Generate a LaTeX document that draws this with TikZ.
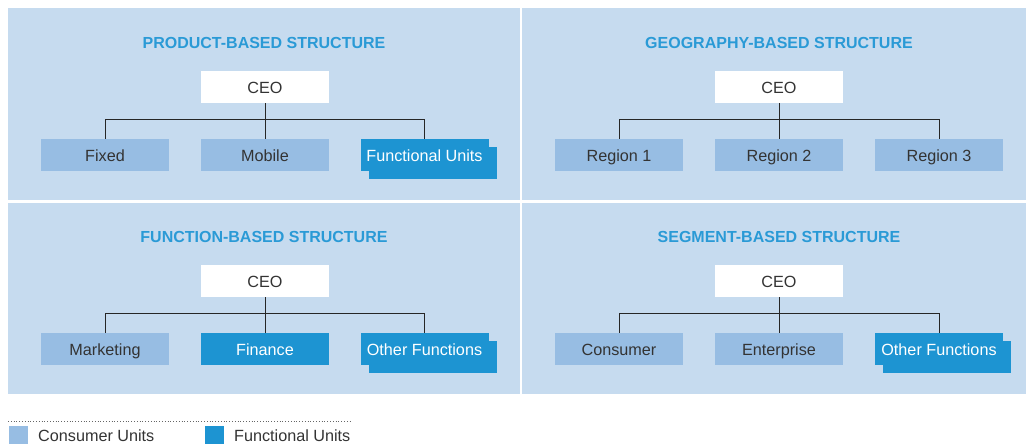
\documentclass[tikz,border=0pt]{standalone}
\usepackage{fontspec}
\setmainfont{Liberation Sans}
\usetikzlibrary{shadows}
\definecolor{panelbg}{HTML}{C6DBEF}
\definecolor{consumer}{HTML}{97BDE3}
\definecolor{functional}{HTML}{1D94D2}
\definecolor{titleblue}{HTML}{2A9AD6}
\definecolor{textgray}{HTML}{333333}
\tikzset{
  panel/.style={fill=panelbg, draw=none},
  unitbox/.style={minimum width=128pt, minimum height=32pt, inner sep=0pt,
    text height=15pt, text depth=1.6pt,
    font=\fontsize{16.2}{18}\selectfont},
  ceobox/.style={unitbox, fill=white, text=textgray},
  consumerbox/.style={unitbox, fill=consumer, text=textgray},
  functionalbox/.style={unitbox, fill=functional, text=white},
  stackedbox/.style={functionalbox,
    general shadow={fill=functional, shadow xshift=8pt, shadow yshift=-8pt}},
  paneltitle/.style={font=\fontsize{16}{18}\selectfont\bfseries, text=titleblue},
  orgline/.style={draw=black!85, line width=0.8pt},
  legendkey/.style={minimum width=19pt, minimum height=18pt, inner sep=0pt},
  legendtext/.style={font=\fontsize{16.2}{18}\selectfont, text=textgray, anchor=west, inner sep=0pt}
}
\begin{document}
\begin{tikzpicture}[x=1pt,y=-1pt]
\useasboundingbox (0,0) rectangle (1026,447);
% background panels
\fill[panel] (8,8) rectangle (520,200);
\fill[panel] (522,8) rectangle (1026,200);
\fill[panel] (8,203) rectangle (520,394);
\fill[panel] (522,203) rectangle (1026,394);

% product-based
\node[paneltitle] (t1) at (264,43) {PRODUCT-BASED STRUCTURE};
\node[ceobox] (ceo1) at (265,87) {CEO};
\node[consumerbox] (p1) at (105,155) {Fixed};
\node[consumerbox] (p2) at (265,155) {Mobile};
\node[stackedbox] (p3) at (424.5,155) {Functional Units};
\draw[orgline] (ceo1.south) -- (p2.north);
\draw[orgline] (p1.north) -- ++(0,-19) -| (p3.north);

% geography-based
\node[paneltitle] (t2) at (779,43) {GEOGRAPHY-BASED STRUCTURE};
\node[ceobox] (ceo2) at (779,87) {CEO};
\node[consumerbox] (g1) at (619,155) {Region 1};
\node[consumerbox] (g2) at (779,155) {Region 2};
\node[consumerbox] (g3) at (939,155) {Region 3};
\draw[orgline] (ceo2.south) -- (g2.north);
\draw[orgline] (g1.north) -- ++(0,-19) -| (g3.north);

% function-based
\node[paneltitle] (t3) at (264,237) {FUNCTION-BASED STRUCTURE};
\node[ceobox] (ceo3) at (265,281) {CEO};
\node[consumerbox] (f1) at (105,349) {Marketing};
\node[functionalbox] (f2) at (265,349) {Finance};
\node[stackedbox] (f3) at (424.5,349) {Other Functions};
\draw[orgline] (ceo3.south) -- (f2.north);
\draw[orgline] (f1.north) -- ++(0,-19) -| (f3.north);

% segment-based
\node[paneltitle] (t4) at (779,237) {SEGMENT-BASED STRUCTURE};
\node[ceobox] (ceo4) at (779,281) {CEO};
\node[consumerbox] (s1) at (619,349) {Consumer};
\node[consumerbox] (s2) at (779,349) {Enterprise};
\node[stackedbox] (s3) at (939,349) {Other Functions};
\draw[orgline] (ceo4.south) -- (s2.north);
\draw[orgline] (s1.north) -- ++(0,-19) -| (s3.north);

% legend
\coordinate (legL) at (8,421);
\coordinate (legR) at (352,421);
\draw[black!60, line width=0.8pt, dotted] (legL) -- (legR);
\node[legendkey, fill=consumer] (k1) at (18.5,435) {};
\node[legendtext] (l1) at (38,436) {Consumer Units};
\node[legendkey, fill=functional] (k2) at (214.5,435) {};
\node[legendtext] (l2) at (234,436) {Functional Units};
\end{tikzpicture}
\end{document}
